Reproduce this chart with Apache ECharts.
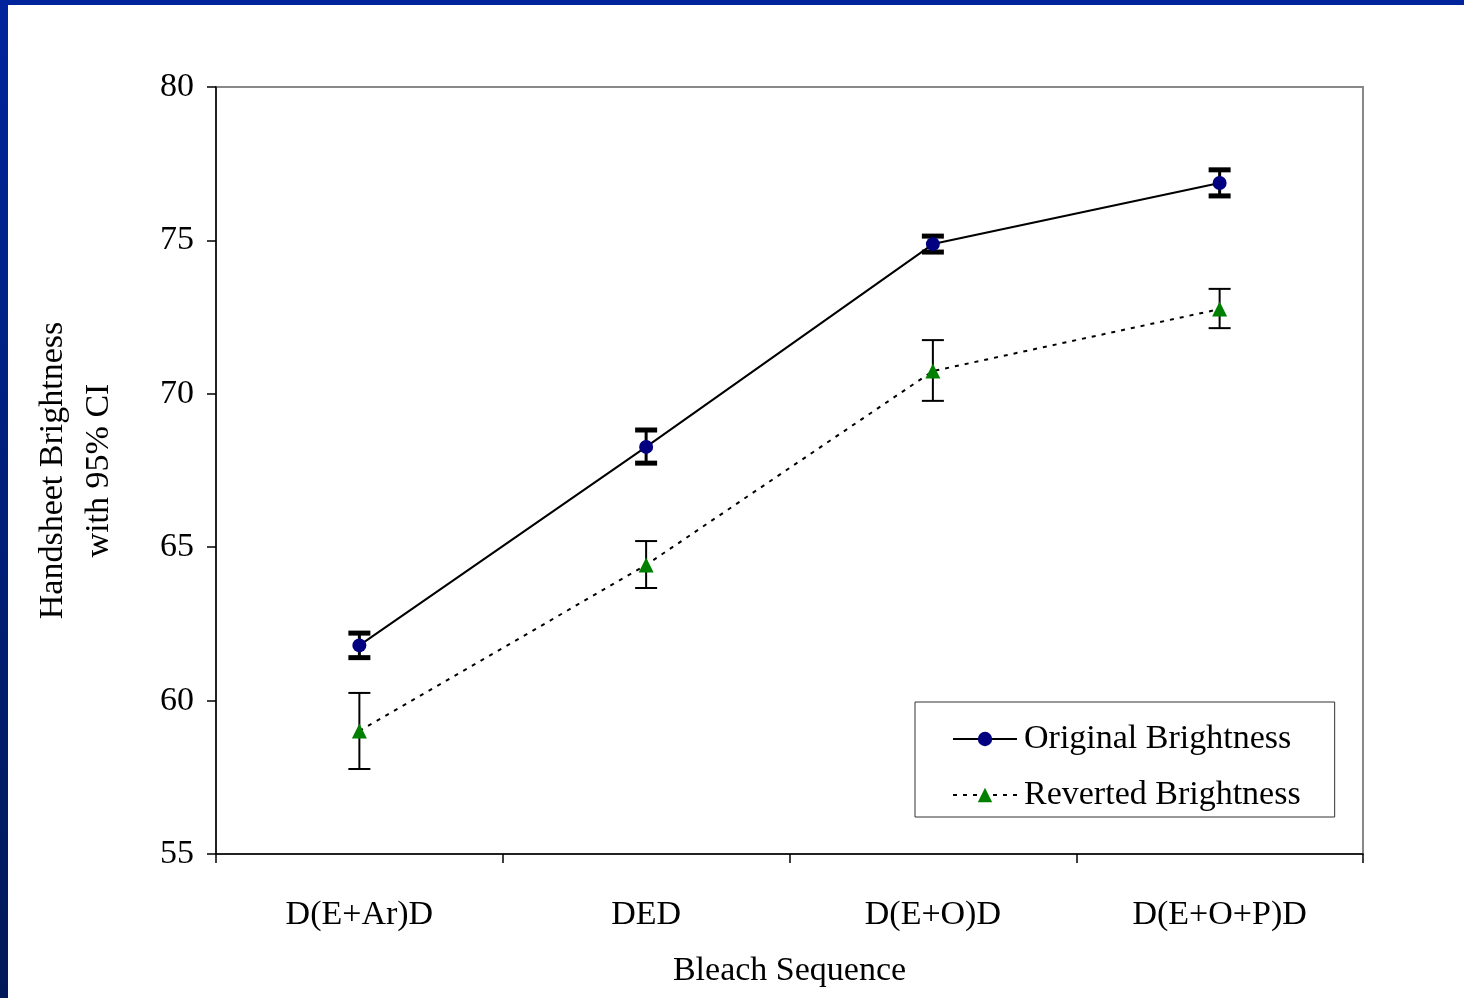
<!DOCTYPE html>
<html>
<head>
<meta charset="utf-8">
<script src="https://cdn.jsdelivr.net/npm/echarts@6/dist/echarts.min.js"></script>
<style>
html,body{margin:0;padding:0;background:#fff;}
#chart{width:1464px;height:998px;}
</style>
</head>
<body>
<div id="chart"></div>
<script>
const categories = ['D(E+Ar)D', 'DED', 'D(E+O)D', 'D(E+O+P)D'];
const originalValues = [61.8, 68.27, 74.88, 76.87];
const originalLow = [61.4, 67.74, 74.62, 76.45];
const originalHigh = [62.2, 68.82, 75.14, 77.3];
const revertedValues = [59.01, 64.42, 70.74, 72.76];
const revertedLow = [57.77, 63.67, 69.77, 72.14];
const revertedHigh = [60.25, 65.2, 71.75, 73.42];
const yTicks = [55, 60, 65, 70, 75, 80];

const FONT = "'Liberation Serif', 'Times New Roman', serif";
const chart = echarts.init(document.getElementById('chart'));

function errorBar(lw, capW, capLw) {
  return function (params, api) {
    const i = api.value(0);
    const lo = api.coord([i, api.value(1)]);
    const hi = api.coord([i, api.value(2)]);
    const st = { stroke: '#000', lineWidth: lw };
    const cst = { stroke: '#000', lineWidth: capLw };
    return {
      type: 'group',
      children: [
        { type: 'line', shape: { x1: lo[0], y1: lo[1], x2: hi[0], y2: hi[1] }, style: st },
        { type: 'line', shape: { x1: lo[0] - capW / 2, y1: lo[1], x2: lo[0] + capW / 2, y2: lo[1] }, style: cst },
        { type: 'line', shape: { x1: hi[0] - capW / 2, y1: hi[1], x2: hi[0] + capW / 2, y2: hi[1] }, style: cst }
      ]
    };
  };
}

const option = {
  backgroundColor: '#fff',
  animation: false,
  textStyle: { fontFamily: FONT, color: '#000' },
  graphic: [
    { type: 'rect', left: 0, top: 0, shape: { width: 1464, height: 5 }, style: { fill: '#00249c' }, z: 100 },
    { type: 'rect', left: 0, top: 0, shape: { width: 8, height: 998 },
      style: { fill: new echarts.graphic.LinearGradient(0, 0, 0, 1, [{ offset: 0, color: '#00249c' }, { offset: 1, color: '#001a58' }]) }, z: 100 }
  ],
  grid: { left: 216, right: 101, top: 87, bottom: 144, show: true, borderColor: '#888', borderWidth: 2, backgroundColor: 'transparent' },
  legend: {
    orient: 'vertical',
    left: 915, top: 702,
    padding: [20, 34, 5, 37],
    itemGap: 22,
    itemWidth: 64, itemHeight: 18,
    borderColor: '#333', borderWidth: 1,
    backgroundColor: '#fff',
    textStyle: { fontFamily: FONT, fontSize: 34, color: '#000', padding: [0, 0, 0, 2] },
    data: ['Original Brightness', 'Reverted Brightness']
  },
  xAxis: {
    type: 'category',
    data: categories,
    boundaryGap: true,
    name: 'Bleach Sequence',
    nameLocation: 'middle',
    nameGap: 100,
    nameTextStyle: { fontFamily: FONT, fontSize: 34, color: '#000' },
    axisLine: { lineStyle: { color: '#000', width: 1.5 } },
    axisTick: { show: true, length: 9, interval: 0, lineStyle: { color: '#000', width: 1.5 } },
    axisLabel: { fontFamily: FONT, fontSize: 34, color: '#000', margin: 44, interval: 0 },
    splitLine: { show: false }
  },
  yAxis: {
    type: 'value',
    min: 55, max: 80, interval: 5,
    name: 'Handsheet Brightness\nwith 95% CI',
    nameLocation: 'middle',
    nameGap: 94,
    nameRotate: 90,
    nameTextStyle: { fontFamily: FONT, fontSize: 34, color: '#000', lineHeight: 46, align: 'center' },
    axisLine: { show: true, lineStyle: { color: '#000', width: 1.5 } },
    axisTick: { show: true, length: 9, lineStyle: { color: '#000', width: 1.5 } },
    axisLabel: { fontFamily: FONT, fontSize: 34, color: '#000', margin: 22, padding: [8, 0, 0, 0],
      formatter: function (v) { return yTicks.indexOf(v) >= 0 ? String(v) : ''; } },
    splitLine: { show: false }
  },
  series: [
    {
      name: 'Original Brightness', type: 'line', data: originalValues,
      symbol: 'circle', symbolSize: 14,
      itemStyle: { color: '#000080' },
      lineStyle: { color: '#000', width: 2, type: 'solid' },
      z: 5
    },
    {
      name: 'Reverted Brightness', type: 'line', data: revertedValues,
      symbol: 'triangle', symbolSize: 15,
      itemStyle: { color: '#008000' },
      lineStyle: { color: '#000', width: 2, type: [4, 6] },
      z: 5
    },
    {
      type: 'custom', name: 'origErr',
      renderItem: errorBar(3, 22, 5),
      data: categories.map((c, i) => [i, originalLow[i], originalHigh[i]]),
      encode: { x: 0, y: [1, 2] }, z: 4, silent: true
    },
    {
      type: 'custom', name: 'revErr',
      renderItem: errorBar(2, 22, 2),
      data: categories.map((c, i) => [i, revertedLow[i], revertedHigh[i]]),
      encode: { x: 0, y: [1, 2] }, z: 4, silent: true
    }
  ]
};
chart.setOption(option);
</script>
</body>
</html>
